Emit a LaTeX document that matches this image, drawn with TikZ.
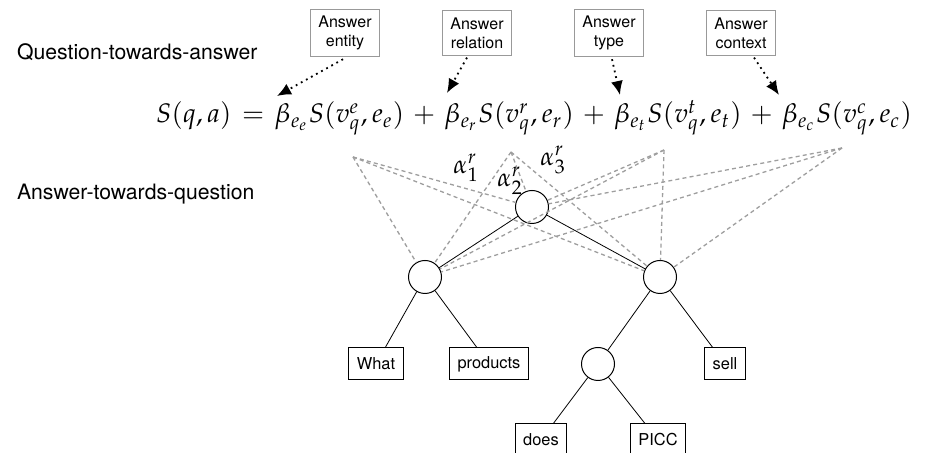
\documentclass[tikz,border=0pt]{standalone}
\usepackage{mathpazo}
\usepackage[no-math]{fontspec}
\setmainfont{TeX Gyre Heros}
\usetikzlibrary{arrows.meta,positioning}

\begin{document}
\begin{tikzpicture}[
  x=0.5pt,y=-0.5pt,
  >=Latex,
  hint/.style={draw=black!40,line width=0.5pt,minimum width=34.5pt,
    minimum height=21pt,align=center,font=\fontsize{8}{9.5}\selectfont},
  word/.style={draw,line width=0.5pt,inner xsep=4pt,minimum height=16pt,
    font=\fontsize{8.2}{10}\selectfont},
  inner/.style={circle,draw,line width=0.5pt,minimum size=16.5pt,inner sep=0pt},
  side/.style={anchor=base west,font=\fontsize{10.6}{13}\selectfont},
  weight/.style={font=\fontsize{13}{15}\selectfont},
  attn/.style={black!38,line width=0.65pt,dash pattern=on 2pt off 1.6pt},
  point/.style={dotted,line width=0.9pt,-{Latex[length=7pt,width=6pt]}}
]
  \useasboundingbox (0,0) rectangle (928,453);

  \node[side] (qa) at (10,60) {Question-towards-answer};
  \node[side] (aq) at (10,200) {Answer-towards-question};

  % answer aspects
  \node[hint] (ent) at (345,33) {Answer\\entity};
  \node[hint] (rel) at (477,33) {Answer\\relation};
  \node[hint] (typ) at (609,33) {Answer\\type};
  \node[hint] (ctx) at (741,33) {Answer\\context};

  \node[anchor=base,inner sep=0pt] (score) at (534,123)
    {\medmuskip=6mu\thickmuskip=7mu
     \resizebox{378pt}{!}{$S(q,a) = \beta_{e_e}S(v^e_q,e_e) + \beta_{e_r}S(v^r_q,e_r)
      + \beta_{e_t}S(v^t_q,e_t) + \beta_{e_c}S(v^c_q,e_c)$}};

  \coordinate (tipE) at (277,96);
  \coordinate (tipR) at (447,93);
  \coordinate (tipT) at (620,95);
  \coordinate (tipC) at (779,95);
  \draw[point] ([xshift=-1pt,yshift=-1pt]ent.south) -- (tipE);
  \draw[point] ([xshift=-5pt,yshift=-1pt]rel.south) -- (tipR);
  \draw[point] ([xshift=1.5pt,yshift=-1pt]typ.south) -- (tipT);
  \draw[point] ([xshift=6.5pt,yshift=-1pt]ctx.south) -- (tipC);

  % parse tree
  \node[inner] (root) at (532,207) {};
  \node[inner] (lc) at (425,277) {};
  \node[inner] (rc) at (660,277) {};
  \node[inner] (rlc) at (598,364) {};
  \node[word] (what) at (376,364) {What};
  \node[word] (prod) at (489,364) {products};
  \node[word] (sell) at (725,364) {sell};
  \node[word] (does) at (541,440) {does};
  \node[word] (picc) at (658,440) {PICC};

  \draw (root) -- (lc);
  \draw (root) -- (rc);
  \draw (lc) -- (what);
  \draw (lc) -- (prod);
  \draw (rc) -- (rlc);
  \draw (rc) -- (sell);
  \draw (rlc) -- (does);
  \draw (rlc) -- (picc);

  % attention from each term to the tree
  \coordinate (pE) at (353,157);
  \coordinate (pR) at (511,152);
  \coordinate (pT) at (664,150);
  \coordinate (pC) at (842,148);
  \foreach \p in {pE,pR,pT,pC}
    \foreach \n in {lc,root,rc}
      \draw[attn] (\p) -- (\n);

  \node[weight] (a1) at (466,168) {$\alpha^r_1$};
  \node[weight] (a2) at (510,181) {$\alpha^r_2$};
  \node[weight] (a3) at (553,160) {$\alpha^r_3$};
\end{tikzpicture}
\end{document}
